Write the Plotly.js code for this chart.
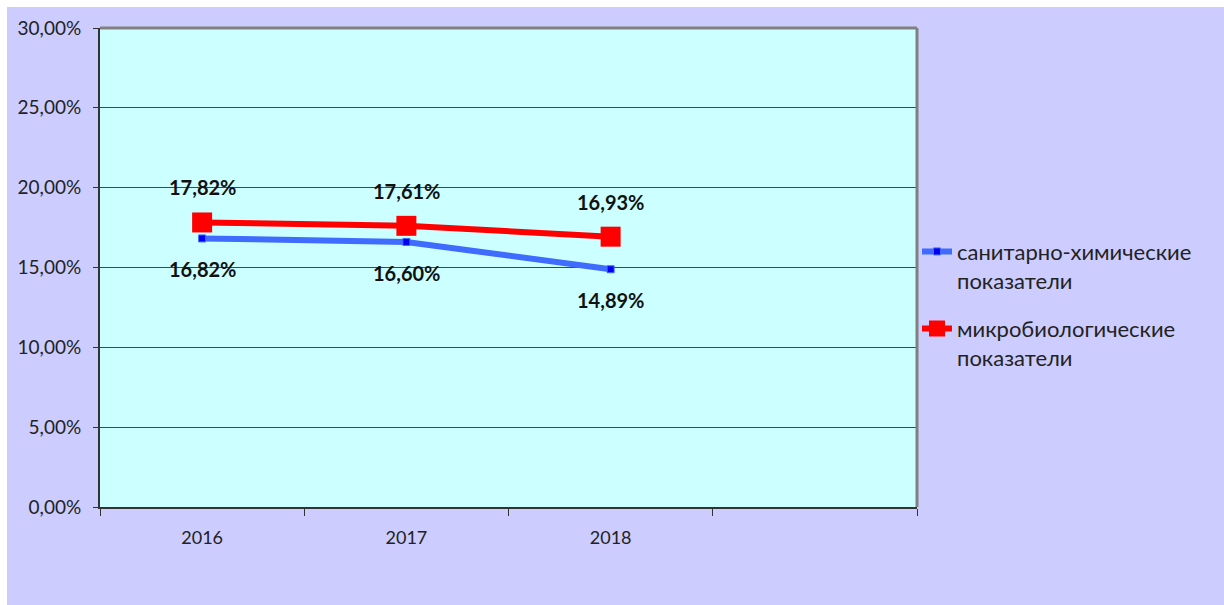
<!DOCTYPE html>
<html>
<head>
<meta charset="utf-8">
<script src="https://cdn.plot.ly/plotly-3.0.1.min.js"></script>
<style>
html,body{margin:0;padding:0;background:#ffffff;}
#chart{position:absolute;left:7px;top:7px;width:1217px;height:598px;}
</style>
</head>
<body>
<div id="chart"></div>
<script>
var categories = ["2016", "2017", "2018"];
var slots = ["2016", "2017", "2018", " "];
var seriesNames = ["санитарно-химические<br>показатели", "микробиологические<br>показатели"];
var chemValues = [16.82, 16.60, 14.89];
var microValues = [17.82, 17.61, 16.93];

function toFrac(arr){ return arr.map(function(v){ return v/100; }); }
function fmt(v){ return v.toFixed(2).replace('.', ',') + '%'; }

var traces = [
  {
    type: 'scatter', mode: 'lines+markers', name: seriesNames[0],
    x: categories, y: toFrac(chemValues),
    line: {color: '#3F6BFF', width: 6},
    marker: {symbol: 'square', size: 7, color: '#0000EE', line: {color: '#3F6BFF', width: 1}},
    legendgroup: 'a', hoverinfo: 'skip'
  },
  {
    type: 'scatter', mode: 'lines+markers', name: seriesNames[1],
    x: categories, y: toFrac(microValues),
    line: {color: '#FF0000', width: 6},
    marker: {symbol: 'square', size: 20, color: '#FF0000'},
    legendgroup: 'b', hoverinfo: 'skip'
  }
];

var labelFont = {family: 'Lato, sans-serif', size: 20, color: '#111111', weight: 'bold'};
var annotations = [];
categories.forEach(function(c, i){
  annotations.push({x: i, y: microValues[i]/100, xref: 'x', yref: 'y', text: fmt(microValues[i]),
    showarrow: false, yshift: 35, font: labelFont});
  annotations.push({x: i, y: chemValues[i]/100, xref: 'x', yref: 'y', text: fmt(chemValues[i]),
    showarrow: false, yshift: -31, font: labelFont});
});

var layout = {
  width: 1217, height: 598,
  paper_bgcolor: '#CCCCFF', plot_bgcolor: '#CCFFFF',
  margin: {l: 93, r: 307, t: 21, b: 98},
  separators: ', ',
  font: {family: 'Lato, sans-serif', color: '#222222'},
  showlegend: true,
  legend: {x: 1.0, xanchor: 'left', y: 0.577, yanchor: 'top', bgcolor: 'rgba(0,0,0,0)',
    font: {size: 22, color: '#222222'}, tracegroupgap: 17, valign: 'top'},
  xaxis: {
    type: 'category', categoryarray: slots, categoryorder: 'array', range: [-0.5, 3.5],
    tickmode: 'array', tickvals: slots, ticktext: slots,
    tickson: 'boundaries', ticks: 'outside', ticklen: 7, tickcolor: '#333333', tickwidth: 1,
    showline: true, linecolor: '#333333', linewidth: 2, showgrid: false,
    tickfont: {size: 18, color: '#222222'}, ticklabelstandoff: 13, fixedrange: true
  },
  yaxis: {
    range: [0, 0.30], dtick: 0.05, tick0: 0, tickformat: '.2%',
    ticks: 'outside', ticklen: 5, tickcolor: '#333333', tickwidth: 1,
    showline: true, linecolor: '#333333', linewidth: 2,
    showgrid: true, gridcolor: '#3A4A4A', gridwidth: 1, zeroline: false,
    tickfont: {size: 19, color: '#222222'}, ticklabelstandoff: 8, fixedrange: true
  },
  shapes: [
    {type: 'line', xref: 'paper', yref: 'paper', x0: 0, x1: 1, y0: 1, y1: 1, line: {color: '#808080', width: 3}, layer: 'above'},
    {type: 'line', xref: 'paper', yref: 'paper', x0: 1, x1: 1, y0: 0, y1: 1, line: {color: '#808080', width: 3}, layer: 'above'}
  ],
  annotations: annotations
};

Plotly.newPlot('chart', traces, layout, {displayModeBar: false, staticPlot: true});
</script>
</body>
</html>
